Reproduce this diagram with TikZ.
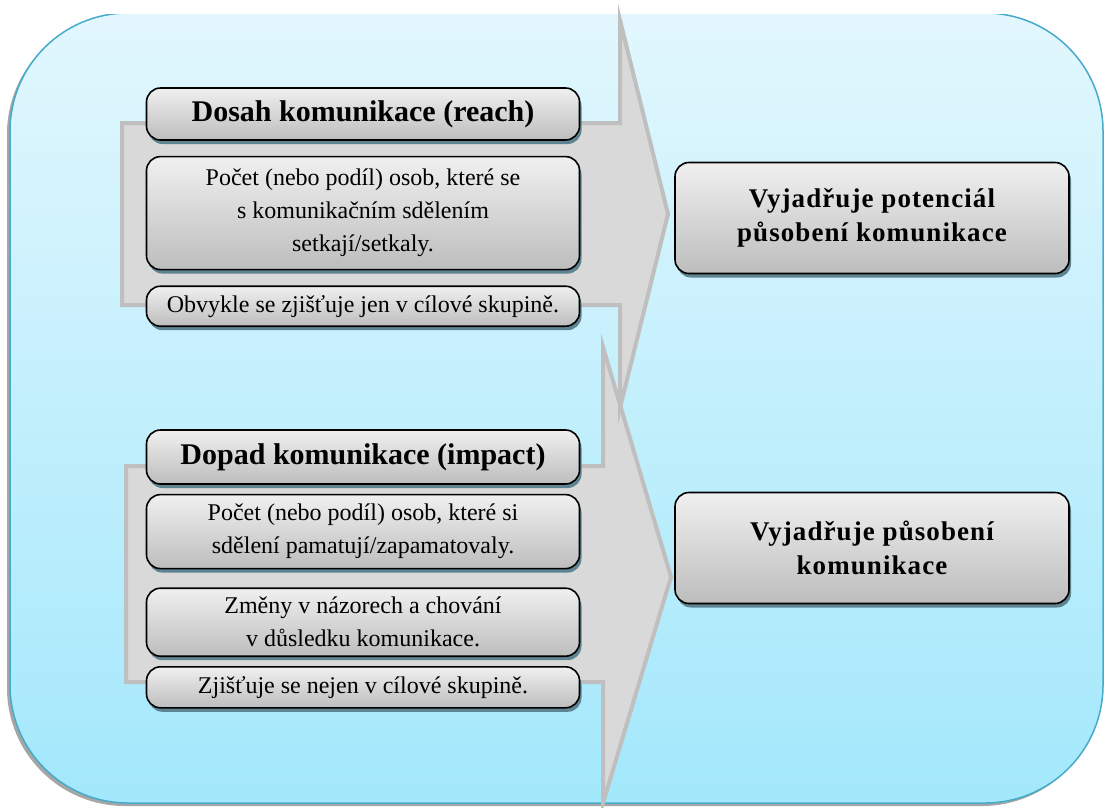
\documentclass[tikz,border=0pt]{standalone}
\usepackage{fontspec}
\setmainfont{Liberation Serif}
\newfontfamily\widefont[LetterSpace=4]{Liberation Serif}
\usetikzlibrary{positioning, shadows}
\definecolor{bgTop}{HTML}{E2F7FD}
\definecolor{bgBottom}{HTML}{A3E8FC}
\definecolor{bgLine}{HTML}{45ABC9}
\definecolor{arrowFill}{HTML}{D9D9D9}
\definecolor{arrowLine}{HTML}{BFBFBF}
\definecolor{boxTop}{HTML}{F0F0F0}
\definecolor{boxBottom}{HTML}{BDBDBD}
\definecolor{boxShadow}{HTML}{5E8491}

\begin{document}
\begin{tikzpicture}[x=1pt, y=-1pt,
  node distance=15pt,
  every node/.style={align=center, inner sep=2pt},
  box/.style={rectangle, draw=black, line width=1.6pt, rounded corners=14pt,
              top color=boxTop, bottom color=boxBottom, minimum width=433pt,
              font=\fontsize{24}{33}\selectfont,
              drop shadow={opacity=1, fill=boxShadow, shadow xshift=2pt, shadow yshift=-4pt}},
  headbox/.style={box, font=\fontsize{30}{33}\selectfont\bfseries},
  resultbox/.style={box, minimum width=394pt, minimum height=111pt,
                    font=\widefont\fontsize{27}{34}\selectfont\bfseries},
  bigarrow/.style={fill=arrowFill, draw=arrowLine, line width=4pt},
  panel/.style={draw=bgLine, line width=1.5pt, rounded corners=118pt,
                top color=bgTop, bottom color=bgBottom,
                drop shadow={opacity=1, fill=black!35, shadow xshift=-3pt, shadow yshift=-3pt}}
]
  \useasboundingbox (0,0) rectangle (1105,807);

  % background panel
  \begin{scope}
    \clip (-5,14) rectangle (1110,812);
    \path[panel] (10,13) rectangle (1103,803);
  \end{scope}

  % big grey arrows
  \draw[bigarrow] (126,466) -- (603,466) -- (603,347) -- (671,577)
                  -- (603,803) -- (603,682) -- (126,682) -- cycle;
  \draw[bigarrow] (122,123) -- (620,123) -- (620,20) -- (668,214)
                  -- (620,408) -- (620,305) -- (122,305) -- cycle;

  % reach
  \node[headbox, minimum height=52pt] (reach) at (363,114) {Dosah komunikace (reach)};
  \node[box, minimum height=113pt, below=15pt of reach] (reachdesc)
    {Počet (nebo podíl) osob, které se\\s komunikačním sdělením\\setkají/setkaly.};
  \node[box, minimum height=40pt, below=15pt of reachdesc] (reachgroup)
    {Obvykle se zjišťuje jen v cílové skupině.};

  % impact
  \node[headbox, minimum height=54pt] (impact) at (363,457) {Dopad komunikace (impact)};
  \node[box, minimum height=74pt, below=9pt of impact] (impactdesc)
    {Počet (nebo podíl) osob, které si\\sdělení pamatují/zapamatovaly.};
  \node[box, minimum height=68pt, below=18pt of impactdesc] (impactchange)
    {Změny v názorech a chování\\v důsledku komunikace.};
  \node[box, minimum height=41pt, below=9pt of impactchange] (impactgroup)
    {Zjišťuje se nejen v cílové skupině.};

  % results
  \node[resultbox] (reachresult) at (872,218) {Vyjadřuje potenciál\\působení komunikace};
  \node[resultbox] (impactresult) at (872,548) {Vyjadřuje působení\\komunikace};
\end{tikzpicture}
\end{document}
